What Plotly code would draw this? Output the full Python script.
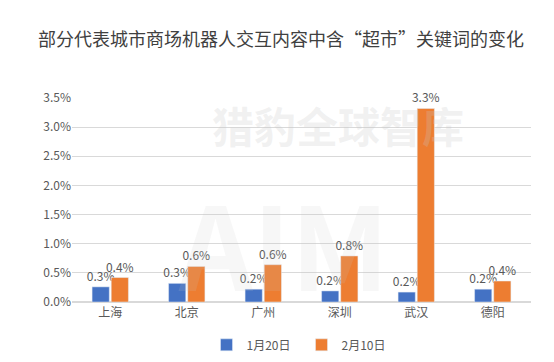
import plotly.graph_objects as go

cities = ["上海", "北京", "广州", "深圳", "武汉", "德阳"]
jan20 = [0.0026, 0.0032, 0.0022, 0.0019, 0.0017, 0.0022]
feb10 = [0.0042, 0.0061, 0.0064, 0.0079, 0.0332, 0.0036]
series_names = ["1月20日", "2月10日"]
title = "部分代表城市商场机器人交互内容中含“超市”关键词的变化"
watermark = "猎豹全球智库"
logo_text = "AIM"

font_family = "Microsoft YaHei, Noto Sans CJK SC, sans-serif"

fig = go.Figure()
for vals, name, color in [(jan20, series_names[0], "#4472C4"), (feb10, series_names[1], "#ED7D31")]:
    fig.add_trace(go.Bar(
        x=cities, y=vals, name=name, marker_color=color,
        text=[f"{v*100:.1f}%" for v in vals], textposition="outside",
        constraintext="none",
        textfont=dict(size=12, color="#595959"), cliponaxis=False,
    ))

# faint watermark
fig.add_annotation(text="<b>" + watermark + "</b>", xref="paper", yref="paper", x=0.58, y=0.87,
                   xanchor="center", yanchor="middle",
                   showarrow=False, font=dict(size=42, color="rgba(200,200,200,0.25)", family=font_family))
fig.add_annotation(text="<b>" + logo_text + "</b>", xref="paper", yref="paper", x=0.46, y=0.3,
                   xanchor="center", yanchor="middle",
                   showarrow=False, font=dict(size=115, color="rgba(200,200,200,0.15)", family=font_family))

fig.update_layout(
    width=546, height=354,
    margin=dict(l=64, r=23, t=90, b=60, autoexpand=False),
    paper_bgcolor="white", plot_bgcolor="white",
    font=dict(family=font_family, color="#595959", size=12),
    title=dict(text=title, x=0.5, xanchor="center", y=0.91, yanchor="middle",
               font=dict(size=18, color="#404040", family=font_family)),
    barmode="group", bargap=0.5, bargroupgap=0.1,
    legend=dict(orientation="h", x=0.5, xanchor="center", y=-0.21, yanchor="middle",
                font=dict(size=12, color="#595959"), itemwidth=30, traceorder="normal",
                entrywidth=50, entrywidthmode="pixels"),
    showlegend=True,
)
fig.update_yaxes(range=[0, 0.035], dtick=0.005, tickformat=".1%", gridcolor="#D9D9D9",
                 zeroline=True, zerolinecolor="#D9D9D9", ticks="", showline=False,
                 tickfont=dict(size=12, color="#595959"))
fig.update_xaxes(showline=True, linecolor="#D9D9D9", ticks="",
                 tickfont=dict(size=12, color="#595959"))

fig.write_html("out.html")
